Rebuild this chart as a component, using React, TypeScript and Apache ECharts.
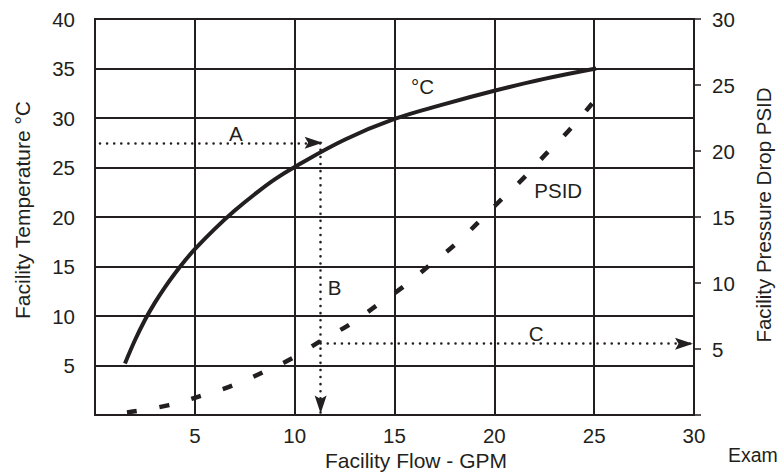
import React, { useEffect, useRef } from "react";
import * as echarts from "echarts";

// ---- data ----
const tempFlow = [1.5, 2, 2.5, 3, 3.5, 4, 4.5, 5, 6, 7, 8, 9, 10, 12.5, 15, 17.5, 20, 22.5, 25.1];
const tempC = [5.2, 7.55, 9.6, 11.35, 12.9, 14.3, 15.58, 16.75, 18.8, 20.65, 22.3, 23.8, 25.05, 27.8, 29.9, 31.4, 32.75, 33.95, 35];

const psidFlow = [1.6, 3.7, 5.4, 7.0, 8.5, 10, 11.4, 12.9, 14.2, 15.6, 16.8, 18.1, 19.2, 20.4, 21.5, 22.6, 23.7, 24.9];
const psidValues = [0.2, 0.75, 1.5, 2.3, 3.3, 4.4, 5.7, 7.0, 8.4, 9.9, 11.4, 13.0, 14.6, 16.4, 18.0, 19.8, 21.5, 23.6];

// example construction lines (A, B on left axis; C on right axis)
const arrowA = [[0.25, 27.5], [11.4, 27.5]];
const arrowB = [[11.3, 27.5], [11.3, 0.15]];
const arrowC = [[11.3, 5.4], [29.95, 5.4]];

// annotation labels
const leftLabels = [
  { name: "A", x: 7.05, y: 28.4 },
  { name: "B", x: 12.0, y: 12.9 },
  { name: "°C", x: 16.4, y: 33.2 },
];
const rightLabels = [
  { name: "C", x: 22.1, y: 6.2 },
  { name: "PSID", x: 23.2, y: 17.0 },
];

const xTitle = "Facility Flow - GPM";
const yLeftTitle = "Facility Temperature °C";
const yRightTitle = "Facility Pressure Drop PSID";
const cornerText = "Exam";

const INK = "#231f20";
const FONT = "'Liberation Sans', Arial, Helvetica, sans-serif";
const FS = 20.5;
const TFS = 21;

const ARROW = "path://M6,0 L12,18 L6,14.5 L0,18 Z";

const hideZero = (v: number) => (v === 0 ? "" : String(v));

export default function App() {
  const ref = useRef<HTMLDivElement>(null);

  useEffect(() => {
    document.body.style.margin = "0";
    if (!ref.current) return;
    const chart = echarts.init(ref.current, undefined, { renderer: "svg" });

    const dotted = { color: INK, width: 2.6, type: [0, 7.1], cap: "round" as const };
    const arrowMark = (lines: number[][][]) => ({
      silent: true,
      symbol: ["none", ARROW],
      symbolSize: [12, 18],
      symbolOffset: [[0, 0], [0, 9]],
      label: { show: false },
      lineStyle: dotted,
      itemStyle: { color: INK },
      emphasis: { disabled: true },
      data: lines.map((l) => [{ coord: l[0] }, { coord: l[1] }]),
    });

    const annotationLabel = {
      show: true,
      position: "inside",
      formatter: "{b}",
      fontSize: FS,
      color: INK,
      fontFamily: FONT,
      opacity: 1,
      textBorderWidth: 0,
      textBorderColor: "transparent",
    };

    const option: any = {
      animation: false,
      backgroundColor: "#ffffff",
      textStyle: { fontFamily: FONT, color: INK },
      grid: {
        left: 95,
        right: 83,
        top: 19,
        bottom: 61,
        show: true,
        borderColor: INK,
        borderWidth: 2,
        backgroundColor: "transparent",
        containLabel: false,
        outerBoundsMode: "none",
      },
      xAxis: {
        type: "value",
        min: 0,
        max: 30,
        interval: 5,
        axisLine: { show: false },
        axisTick: { show: false },
        splitLine: { show: true, lineStyle: { color: INK, width: 2 } },
        axisLabel: { fontSize: FS, color: INK, fontFamily: FONT, margin: 10, formatter: hideZero },
      },
      yAxis: [
        {
          type: "value",
          min: 0,
          max: 40,
          interval: 5,
          position: "left",
          axisLine: { show: false },
          axisTick: { show: false },
          splitLine: { show: true, lineStyle: { color: INK, width: 2 } },
          axisLabel: { fontSize: FS, color: INK, fontFamily: FONT, margin: 20, formatter: hideZero },
        },
        {
          type: "value",
          min: 0,
          max: 30,
          interval: 5,
          position: "right",
          axisLine: { show: true, lineStyle: { color: INK, width: 2 } },
          axisTick: { show: true, length: 7, lineStyle: { color: INK, width: 1.5 } },
          splitLine: { show: false },
          axisLabel: { fontSize: FS, color: INK, fontFamily: FONT, margin: 18, formatter: hideZero },
        },
      ],
      series: [
        {
          name: "°C",
          type: "line",
          xAxisIndex: 0,
          yAxisIndex: 0,
          data: tempFlow.map((x, i) => [x, tempC[i]]),
          symbol: "none",
          smooth: 0.4,
          lineStyle: { color: INK, width: 4 },
          silent: true,
          markLine: arrowMark([arrowA, arrowB]),
        },
        {
          name: "PSID",
          type: "line",
          xAxisIndex: 0,
          yAxisIndex: 1,
          data: psidFlow.map((x, i) => [x, psidValues[i]]),
          symbol: "none",
          smooth: 0.5,
          lineStyle: { color: INK, width: 4.5, type: [10, 23] },
          silent: true,
          markLine: arrowMark([arrowC]),
        },
        {
          type: "scatter",
          xAxisIndex: 0,
          yAxisIndex: 0,
          symbolSize: 0.1,
          itemStyle: { color: INK, opacity: 0 },
          silent: true,
          data: leftLabels.map((d) => ({ name: d.name, value: [d.x, d.y] })),
          label: annotationLabel,
        },
        {
          type: "scatter",
          xAxisIndex: 0,
          yAxisIndex: 1,
          symbolSize: 0.1,
          itemStyle: { color: INK, opacity: 0 },
          silent: true,
          data: rightLabels.map((d) => ({ name: d.name, value: [d.x, d.y] })),
          label: annotationLabel,
        },
      ],
      graphic: [
        {
          type: "text",
          x: 416,
          y: 460,
          style: { text: xTitle, fontSize: TFS, fontFamily: FONT, fill: INK, textAlign: "center", textVerticalAlign: "middle" },
        },
        {
          type: "text",
          x: 22.5,
          y: 210,
          rotation: Math.PI / 2,
          style: { text: yLeftTitle, fontSize: TFS, fontFamily: FONT, fill: INK, textAlign: "center", textVerticalAlign: "middle" },
        },
        {
          type: "text",
          x: 763.5,
          y: 215,
          rotation: Math.PI / 2,
          style: { text: yRightTitle, fontSize: FS, fontFamily: FONT, fill: INK, textAlign: "center", textVerticalAlign: "middle" },
        },
        {
          type: "text",
          x: 728,
          y: 455,
          style: { text: cornerText, fontSize: 19.5, fontFamily: FONT, fill: INK, textAlign: "left", textVerticalAlign: "middle" },
        },
      ],
    };

    chart.setOption(option);
    return () => chart.dispose();
  }, []);

  return <div ref={ref} style={{ width: 777, height: 476, position: "absolute", left: 0, top: 0 }} />;
}
